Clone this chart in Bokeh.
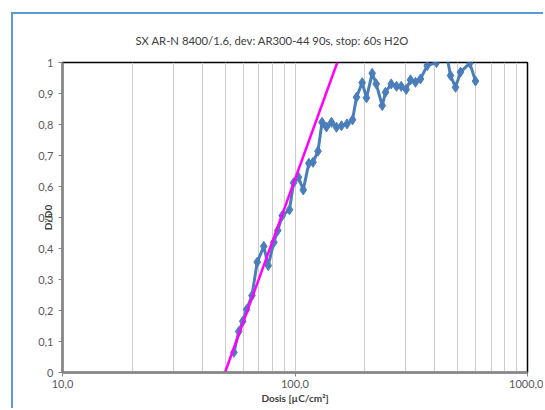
from bokeh.plotting import figure
from bokeh.models import FixedTicker, CustomJSTickFormatter
from bokeh.embed import file_html
from bokeh.resources import INLINE

TITLE = "SX AR-N 8400/1.6, dev: AR300-44 90s, stop: 60s H2O"
X_LABEL = "Dosis [µC/cm²]"
Y_LABEL = "D/D0"

dose = [54.6, 57.3, 59.6, 61.9, 65.3, 68.8, 73.4, 76.7, 81.1, 84.3, 88.1, 94.7,
        98.6, 103.5, 108.5, 114.7, 119.5, 125.6, 130.7, 136.6, 143.5, 150.8, 158.5,
        167.4, 176.8, 183.9, 194.5, 203.0, 214.8, 223.5, 237.2, 245.1, 259.3, 273.3,
        286.3, 300.8, 313.9, 329.8, 346.6, 370.4, 406.1, 435.0, 466.6, 490.3, 515.1,
        564.9, 597.5]
d_d0 = [0.065, 0.132, 0.165, 0.203, 0.248, 0.356, 0.407, 0.345, 0.420, 0.458, 0.506, 0.525,
        0.612, 0.630, 0.589, 0.675, 0.678, 0.714, 0.807, 0.792, 0.807, 0.791, 0.796,
        0.802, 0.815, 0.888, 0.935, 0.886, 0.965, 0.931, 0.861, 0.904, 0.931, 0.923,
        0.923, 0.913, 0.944, 0.936, 0.947, 0.990, 1.000, 1.080, 0.958, 0.920, 0.969,
        0.998, 0.940]

fit_dose = [50.0, 152.0]
fit_d_d0 = [0.0, 1.0]

x_major = [10, 100, 1000]
x_minor = [20, 30, 40, 50, 60, 70, 80, 90, 200, 300, 400, 500, 600, 700, 800, 900]
y_ticks = [0, 0.1, 0.2, 0.3, 0.4, 0.5, 0.6, 0.7, 0.8, 0.9, 1]

FONT = "Lato"

p = figure(width=532, height=396, x_axis_type="log", x_range=(10, 1000), y_range=(0, 1),
           output_backend="svg", toolbar_location=None, title=TITLE,
           min_border_left=49, min_border_right=18, min_border_top=48, min_border_bottom=38)
p.styles = {"border-left": "2px solid #5b9bd5", "border-top": "2px solid #5b9bd5",
            "margin-left": "11px", "margin-top": "12px"}
p.background_fill_color = "white"
p.border_fill_color = "white"
p.outline_line_color = "black"
p.outline_line_width = 1.5

p.title.text_font = FONT
p.title.text_font_size = "11.3px"
p.title.text_font_style = "normal"
p.title.text_color = "#404040"
p.title.align = "left"
p.title.vertical_align = "top"
p.title.offset = 73
p.title.standoff = 27

p.xaxis.ticker = FixedTicker(ticks=x_major, minor_ticks=x_minor)
p.yaxis.ticker = FixedTicker(ticks=y_ticks)
p.xaxis.formatter = CustomJSTickFormatter(code="return tick.toFixed(1).replace('.', ',');")
p.yaxis.formatter = CustomJSTickFormatter(code="""
if (Math.abs(tick - Math.round(tick)) < 1e-9) { return Math.round(tick).toString(); }
return tick.toFixed(1).replace('.', ',');
""")

for ax in (p.xaxis, p.yaxis):
    ax.axis_line_color = "#868686"
    ax.axis_line_width = 2.5
    ax.major_tick_line_color = "#868686"
    ax.major_tick_in = 0
    ax.major_tick_out = 4
    ax.minor_tick_line_color = None
    ax.major_label_text_font = FONT
    ax.major_label_text_font_size = "11px"
    ax.major_label_text_color = "#595959"
    ax.axis_label_text_font = FONT
    ax.axis_label_text_font_size = "10px"
    ax.axis_label_text_font_style = "bold"
    ax.axis_label_text_color = "#404040"

p.xaxis.axis_label = X_LABEL
p.yaxis.axis_label = Y_LABEL
p.xaxis.major_label_standoff = 3
p.xaxis.axis_label_standoff = 1
p.yaxis.major_label_standoff = 5
p.yaxis.axis_label_standoff = -19

p.xgrid.grid_line_color = "#cccccc"
p.xgrid.minor_grid_line_color = "#cccccc"
p.xgrid.grid_line_width = 1
p.ygrid.grid_line_color = None

p.line(dose, d_d0, line_color="#4a7ebb", line_width=3)
p.scatter(dose, d_d0, marker="diamond", size=10, fill_color="#4a7ebb", line_color="#4a7ebb")
p.line(fit_dose, fit_d_d0, line_color="#ff00ff", line_width=2.5)

open("out.html", "w").write(file_html(p, INLINE))
